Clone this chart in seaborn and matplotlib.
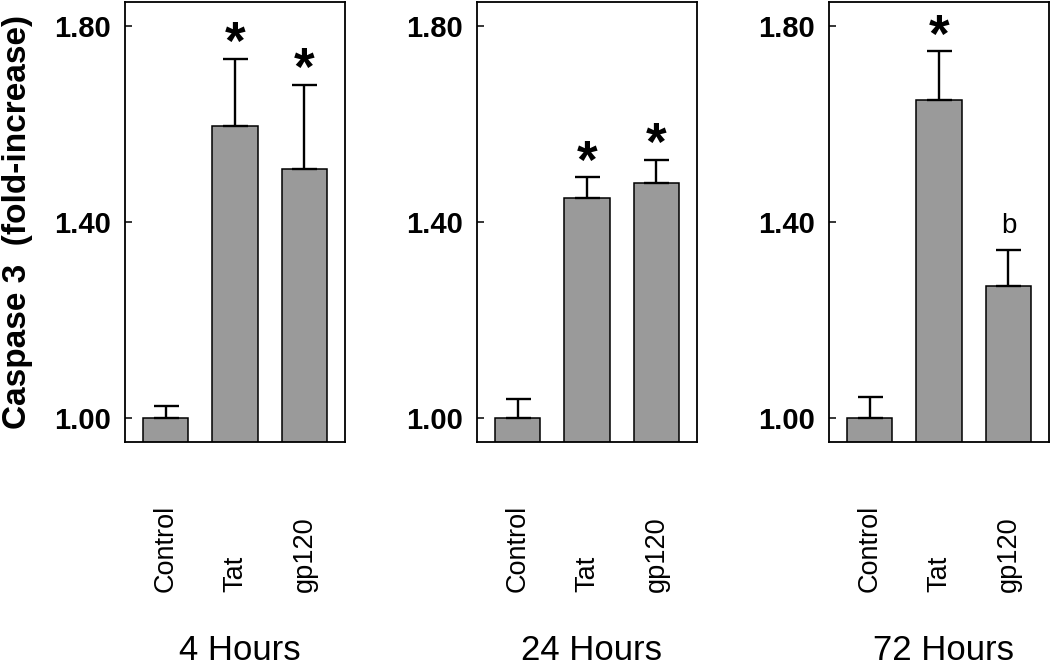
import numpy as np
import pandas as pd
import matplotlib
matplotlib.use("Agg")
import matplotlib.pyplot as plt
import seaborn as sns

# data
groups = ["Control", "Tat", "gp120"]
panel_titles = ["4 Hours", "24 Hours", "72 Hours"]
means_4h = [1.00, 1.595, 1.508]
errs_4h = [0.024, 0.138, 0.172]
means_24h = [1.00, 1.449, 1.479]
errs_24h = [0.039, 0.042, 0.048]
means_72h = [1.00, 1.648, 1.270]
errs_72h = [0.043, 0.100, 0.072]
marks_4h = ["", "*", "*"]
marks_24h = ["", "*", "*"]
marks_72h = ["", "*", "b"]
yticks = [1.00, 1.40, 1.80]

sns.set_style("ticks")
plt.rcParams["font.family"] = ["Liberation Sans", "DejaVu Sans"]
plt.rcParams["text.color"] = "black"
plt.rcParams["xtick.color"] = "black"
plt.rcParams["ytick.color"] = "black"
plt.rcParams["axes.labelcolor"] = "black"

BAR_COLOR = "#9a9a9a"

fig = plt.figure(figsize=(10.5, 6.7), dpi=100)
lefts = [125, 477, 829]
axes = [fig.add_axes([l / 1050, (670 - 442) / 670, 220 / 1050, 440 / 670]) for l in lefts]

panels = [
    (means_4h, errs_4h, marks_4h),
    (means_24h, errs_24h, marks_24h),
    (means_72h, errs_72h, marks_72h),
]

for ax, title, (means, errs, marks) in zip(axes, panel_titles, panels):
    df = pd.DataFrame({"group": groups, "value": means})
    sns.barplot(data=df, x="group", y="value", ax=ax, color=BAR_COLOR,
                saturation=1, edgecolor="black", linewidth=1.1,
                width=0.657, errorbar=None)
    xs = np.arange(len(groups))
    ax.errorbar(xs, means, yerr=[np.zeros(len(errs)), errs], fmt="none",
                ecolor="black", elinewidth=1.7, capsize=9, capthick=1.7)

    for x, m, e, mark in zip(xs, means, errs, marks):
        if not mark:
            continue
        if mark == "*":
            ax.annotate(mark, xy=(x, m + e), xytext=(0, -8), textcoords="offset points",
                        ha="center", va="bottom", fontsize=38, fontweight="bold")
        else:
            ax.annotate(mark, xy=(x, m + e), xytext=(0, 8), textcoords="offset points",
                        ha="center", va="bottom", fontsize=20)

    ax.set_xlim(-0.583, 2.583)
    ax.set_ylim(0.951, 1.849)
    ax.set_yticks(yticks)
    ax.set_yticklabels([f"{t:.2f}" for t in yticks], fontsize=21, fontweight="bold")
    ax.tick_params(axis="y", direction="in", length=5, width=1.1, pad=10)
    ax.tick_params(axis="x", length=0, pad=108)
    ax.set_xticks(xs)
    ax.set_xticklabels(groups, rotation=90, rotation_mode="anchor",
                       ha="left", va="center", fontsize=19.5)
    ax.set_xlabel("")
    ax.set_ylabel("")
    for sp in ax.spines.values():
        sp.set_visible(True)
        sp.set_linewidth(1.3)
        sp.set_color("black")

    ax.text(0.52, -218 / 440, title, transform=ax.transAxes, ha="center",
            va="baseline", fontsize=25)

fig.text(18 / 1050, 1 - 222 / 670, "Caspase 3  (fold-increase)", rotation=90,
         ha="center", va="center", fontsize=24, fontweight="bold")

fig.savefig("out.png", dpi=100)
